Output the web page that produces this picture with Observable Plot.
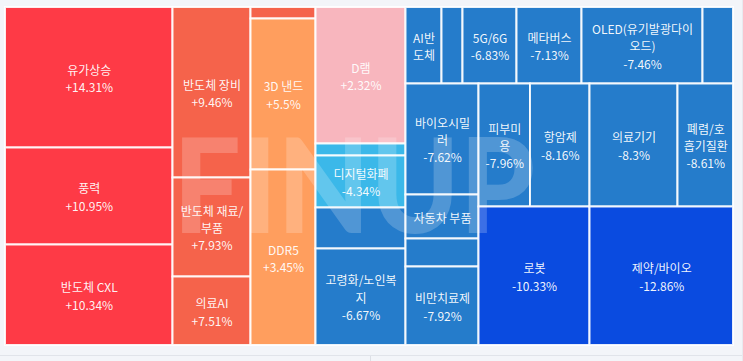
<!DOCTYPE html>
<html>
<head>
<meta charset="utf-8">
<script src="https://cdn.jsdelivr.net/npm/d3@7"></script>
<script src="https://cdn.jsdelivr.net/npm/@observablehq/plot@0.6"></script>
<style>
  html, body { margin: 0; padding: 0; background: #f3f5f9; }
  #chart { position: relative; width: 743px; height: 361px; overflow: hidden; }
</style>
</head>
<body>
<div id="chart"></div>
<script>
// Theme names (display labels with line breaks as in the reference)
const labels = [
  "유가상승", "풍력", "반도체 CXL",
  "반도체 장비", "반도체 재료/\n부품", "의료AI",
  "", "3D 낸드", "DDR5",
  "D램", "", "디지털화폐", "", "고령화/노인복\n지",
  "AI반\n도체", "", "5G/6G", "메타버스", "OLED(유기발광다이\n오드)", "",
  "바이오시밀\n러", "자동차 부품", "", "비만치료제",
  "피부미\n용", "항암제", "로봇",
  "의료기기", "폐렴/호\n흡기질환", "제약/바이오"
];
// Daily change (%); unlabeled tiles estimated from their colour / order
const changes = [
  14.31, 10.95, 10.34,
  9.46, 7.93, 7.51,
  7.3, 5.5, 3.45,
  2.32, -3.9, -4.34, -6.2, -6.67,
  -6.75, -6.8, -6.83, -7.13, -7.46, -7.5,
  -7.62, -7.7, -7.85, -7.92,
  -7.96, -8.16, -10.33,
  -8.3, -8.61, -12.86
];
// Tile weights (relative size, estimated from tile areas)
const weights = [
  23534, 16248, 16834,
  13299, 7722, 5343,
  748, 9815, 11408,
  12285, 1080, 4680, 3690, 8685,
  2754, 1607, 4131, 4973, 9257, 2333,
  8103, 3212, 2044, 5731,
  6335, 7319, 15374,
  10824, 6827, 19875
];
// Grouping path of each tile in the nested slice/dice layout
const groups = [
  "a", "a", "a",
  "b", "b", "b",
  "c", "c", "c",
  "d", "d", "d", "d", "d",
  "e/t", "e/t", "e/t", "e/t", "e/t", "e/t",
  "e/b/1", "e/b/1", "e/b/1", "e/b/1",
  "e/b/2/r", "e/b/2/r", "e/b/2",
  "e/b/3/r", "e/b/3/r", "e/b/3"
];
const colorThresholds = [-10, -5, 0, 3, 7, 10];
const colorRange = ["#0a4be0", "#257ccb", "#3bb8e9", "#f8b6be", "#ff9e5e", "#f5634b", "#fe3a46"];

// Build hierarchy
const rootData = {key: "root", children: []};
labels.forEach((label, i) => {
  let node = rootData;
  for (const key of groups[i].split("/")) {
    let c = node.children.find(c => c.children && c.key === key);
    if (!c) { c = {key, children: []}; node.children.push(c); }
    node = c;
  }
  node.children.push({label, change: changes[i], weight: weights[i]});
});
const W = 728, H = 338;
const hier = d3.hierarchy(rootData).sum(d => d.children ? 0 : d.weight);
d3.treemap().tile(d3.treemapSliceDice).size([W, H]).round(false)(hier);
const leaves = hier.leaves().map(n => ({
  x0: n.x0, x1: n.x1, y0: n.y0, y1: n.y1,
  label: n.data.label, change: n.data.change
}));
const fmt = v => (v > 0 ? "+" : "") + v + "%";
const textOf = d => {
  if (!d.label) return "";
  const w = d.x1 - d.x0, h = d.y1 - d.y0;
  return (w >= 44 && h >= 50) ? d.label + "\n" + fmt(d.change) : d.label;
};

const plot = Plot.plot({
  width: 743,
  height: 361,
  margin: 0,
  style: {background: "transparent", fontFamily: "'Noto Sans CJK KR', 'Noto Sans', sans-serif"},
  x: {domain: [0, W], range: [5, 733], axis: null},
  y: {domain: [0, H], range: [7, 345], axis: null},
  color: {type: "threshold", domain: colorThresholds, range: colorRange},
  marks: [
    Plot.rect(leaves, {
      x1: "x0", x2: "x1", y1: "y0", y2: "y1",
      fill: "change", stroke: "#ffffff", strokeWidth: 2, strokeOpacity: 0.9
    }),
    Plot.text(leaves, {
      x: d => (d.x0 + d.x1) / 2,
      y: d => (d.y0 + d.y1) / 2,
      text: textOf,
      fill: "white",
      fillOpacity: 0.95,
      fontSize: 12,
      lineHeight: 1.45
    })
  ]
});
document.getElementById("chart").appendChild(plot);

// Decorations: watermark and bottom panel border
const svg = d3.select(plot);
svg.append("text")
  .attr("x", 173).attr("y", 233)
  .attr("text-anchor", "start")
  .attr("textLength", 362).attr("lengthAdjust", "spacingAndGlyphs")
  .attr("font-family", "Lato, 'DejaVu Sans', sans-serif")
  .attr("font-weight", 900).attr("font-size", 132)
  .attr("fill", "white").attr("fill-opacity", 0.2)
  .style("pointer-events", "none")
  .text("FINUP");
svg.append("line").attr("x1", 0).attr("x2", 743).attr("y1", 355.5).attr("y2", 355.5)
  .attr("stroke", "#e1e4ea");
svg.append("line").attr("x1", 370.5).attr("x2", 370.5).attr("y1", 356).attr("y2", 361)
  .attr("stroke", "#dde0e6");
svg.append("line").attr("x1", 742.5).attr("x2", 742.5).attr("y1", 0).attr("y2", 361)
  .attr("stroke", "#e8eaef");
</script>
</body>
</html>
